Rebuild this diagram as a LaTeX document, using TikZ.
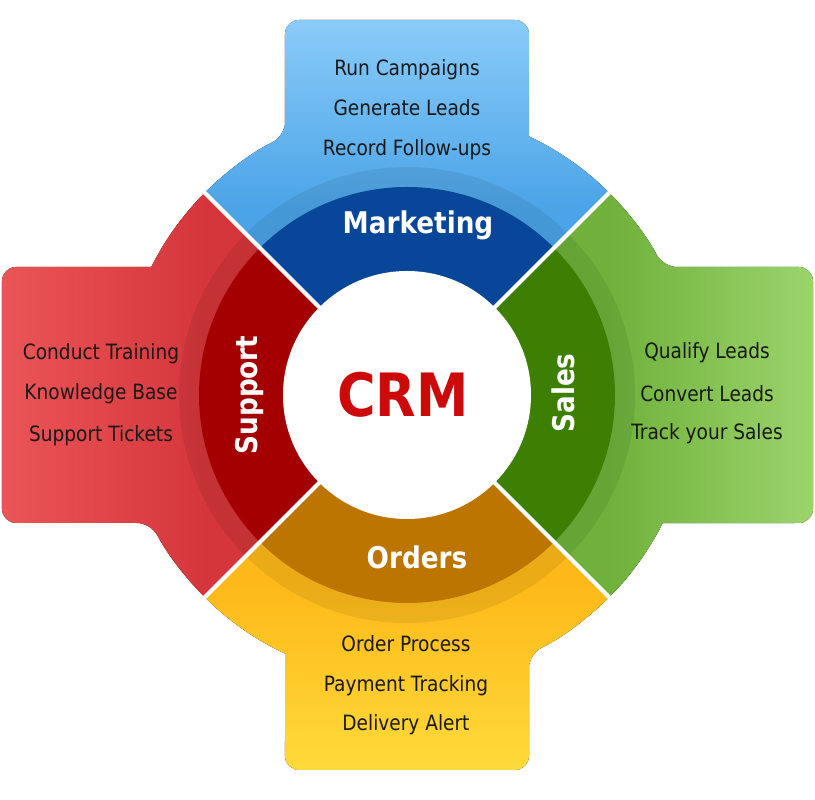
\documentclass[tikz,border=0pt]{standalone}
\usepackage{fontspec}
\setmainfont{DejaVu Sans}[FakeStretch=0.88]
\usepackage{tikz}
\usetikzlibrary{shadings}

\definecolor{mkttop}{HTML}{8ACCF9}
\definecolor{mktlight}{HTML}{4BA4E7}
\definecolor{mktdark}{HTML}{074698}
\definecolor{salesedge}{HTML}{9CD46C}
\definecolor{saleslight}{HTML}{6FB13B}
\definecolor{salesdark}{HTML}{3D7F03}
\definecolor{orderedge}{HTML}{FFDA3A}
\definecolor{orderlight}{HTML}{FDB919}
\definecolor{orderdark}{HTML}{BC7500}
\definecolor{supedge}{HTML}{EA5558}
\definecolor{suplight}{HTML}{D5363B}
\definecolor{supdark}{HTML}{A40002}
\definecolor{crmred}{HTML}{CC0A0A}

\tikzset{
  item/.style={font=\fontsize{12}{14}\selectfont, text=black!90},
  sector/.style={font=\bfseries\fontsize{17}{19}\selectfont, text=white},
  sepline/.style={white, line width=2.4pt}
}

\begin{document}
\begin{tikzpicture}[x=0.02cm, y=0.02cm]
    \useasboundingbox (-407,-405) rectangle (408,395);

    % 外圈与标签
    \fill[top color=mkttop, bottom color=mktlight, middle color=mktlight] (0,0) -- (45:286) arc[start angle=45, end angle=64.75, radius=286] [rounded corners=8pt] -- (122,375) -- (-122,375) -- (-122,258.7) [sharp corners] arc[start angle=115.25, end angle=135, radius=286] -- cycle;
    \fill[left color=supedge, right color=suplight, middle color=suplight] (0,0) -- (135:286) arc[start angle=135, end angle=153.4, radius=286] [rounded corners=8pt] -- (-405,128) -- (-405,-128) -- (-255.8,-128) [sharp corners] arc[start angle=206.6, end angle=225, radius=286] -- cycle;
    \fill[bottom color=orderedge, top color=orderlight, middle color=orderlight] (0,0) -- (225:286) arc[start angle=225, end angle=244.75, radius=286] [rounded corners=8pt] -- (-122,-375) -- (122,-375) -- (122,-258.7) [sharp corners] arc[start angle=295.25, end angle=315, radius=286] -- cycle;
    \fill[right color=salesedge, left color=saleslight, middle color=saleslight] (0,0) -- (-45:286) arc[start angle=-45, end angle=-26.6, radius=286] [rounded corners=8pt] -- (406,-128) -- (406,128) -- (255.8,128) [sharp corners] arc[start angle=26.6, end angle=45, radius=286] -- cycle;

    % 内圈
    \fill[black, opacity=0.07] (0,0) circle (228);
    \fill[mktdark] (0,0) -- (45:208) arc[start angle=45, end angle=135, radius=208] -- cycle;
    \fill[supdark] (0,0) -- (135:208) arc[start angle=135, end angle=225, radius=208] -- cycle;
    \fill[orderdark] (0,0) -- (225:208) arc[start angle=225, end angle=315, radius=208] -- cycle;
    \fill[salesdark] (0,0) -- (-45:208) arc[start angle=-45, end angle=45, radius=208] -- cycle;
    \fill[white] (0,0) circle (124);

    \draw[sepline] (45:118) -- (45:292);
    \draw[sepline] (135:118) -- (135:292);
    \draw[sepline] (225:118) -- (225:292);
    \draw[sepline] (315:118) -- (315:292);

    \node[font=\bfseries\fontsize{34}{36}\selectfont, text=crmred] (crm) at (-4,0) {CRM};

    \node[sector] (marketing) at (11,170) {Marketing};
    \node[sector, rotate=90] (support) at (-157,0) {Support};
    \node[sector, rotate=90] (sales) at (156,2) {Sales};
    \node[sector] (orders) at (10,-162) {Orders};

    \node[item] (mkt1) at (0,325) {Run Campaigns};
    \node[item] (mkt2) at (0,287) {Generate Leads};
    \node[item] (mkt3) at (0,245) {Record Follow-ups};

    \node[item] (sup1) at (-306,41) {Conduct Training};
    \node[item] (sup2) at (-306,1) {Knowledge Base};
    \node[item] (sup3) at (-306,-41) {Support Tickets};

    \node[item] (sal1) at (300,42) {Qualify Leads};
    \node[item] (sal2) at (300,1) {Convert Leads};
    \node[item] (sal3) at (300,-39) {Track your Sales};

    \node[item] (ord1) at (-1,-249) {Order Process};
    \node[item] (ord2) at (-1,-291) {Payment Tracking};
    \node[item] (ord3) at (-1,-330) {Delivery Alert};
\end{tikzpicture}
\end{document}
